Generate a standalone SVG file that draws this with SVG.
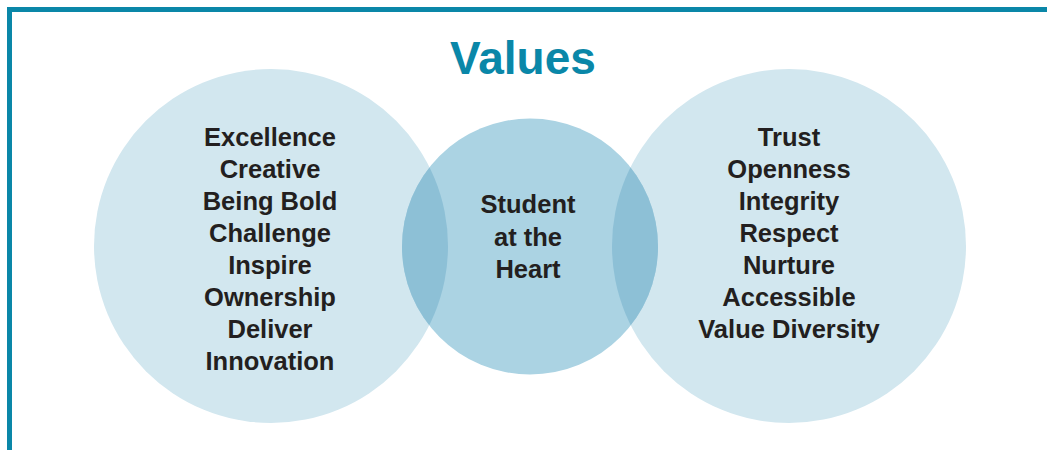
<svg xmlns="http://www.w3.org/2000/svg" width="1047" height="450" viewBox="0 0 1047 450">
<style>
.lbl{font-family:"Liberation Sans",Arial,sans-serif;font-weight:bold;font-size:25.5px;fill:#231f20;text-anchor:middle}
.title{font-family:"Liberation Sans",Arial,sans-serif;font-weight:bold;font-size:46px;fill:#0a87a8;text-anchor:middle}
</style>
<defs>
<clipPath id="cm"><circle cx="530" cy="246.5" r="128"/></clipPath>
</defs>
<rect width="1047" height="450" fill="#ffffff"/>
<g id="frame" fill="#0a87a8">
<rect x="7" y="7" width="1040" height="5"/>
<rect x="7" y="7" width="5" height="443"/>
</g>
<text class="title" x="523" y="74">Values</text>
<g id="left">
<circle cx="271" cy="246" r="177" fill="#d2e7ef"/>
</g>
<g id="right">
<circle cx="789" cy="246" r="177" fill="#d2e7ef"/>
</g>
<g id="center">
<circle cx="530" cy="246.5" r="128" fill="#abd3e3"/>
<g clip-path="url(#cm)" fill="#8dc0d6">
<circle cx="271" cy="246" r="177"/>
<circle cx="789" cy="246" r="177"/>
</g>
</g>
<g id="left-text">
<text class="lbl" x="270" y="146">Excellence</text>
<text class="lbl" x="270" y="178">Creative</text>
<text class="lbl" x="270" y="210">Being Bold</text>
<text class="lbl" x="270" y="242">Challenge</text>
<text class="lbl" x="270" y="274">Inspire</text>
<text class="lbl" x="270" y="306">Ownership</text>
<text class="lbl" x="270" y="338">Deliver</text>
<text class="lbl" x="270" y="370">Innovation</text>
</g>
<g id="center-text">
<text class="lbl" x="528" y="213">Student</text>
<text class="lbl" x="528" y="246">at the</text>
<text class="lbl" x="528" y="278">Heart</text>
</g>
<g id="right-text">
<text class="lbl" x="789" y="146">Trust</text>
<text class="lbl" x="789" y="178">Openness</text>
<text class="lbl" x="789" y="210">Integrity</text>
<text class="lbl" x="789" y="242">Respect</text>
<text class="lbl" x="789" y="274">Nurture</text>
<text class="lbl" x="789" y="306">Accessible</text>
<text class="lbl" x="789" y="338">Value Diversity</text>
</g>
<g id="connectors"/>
</svg>
